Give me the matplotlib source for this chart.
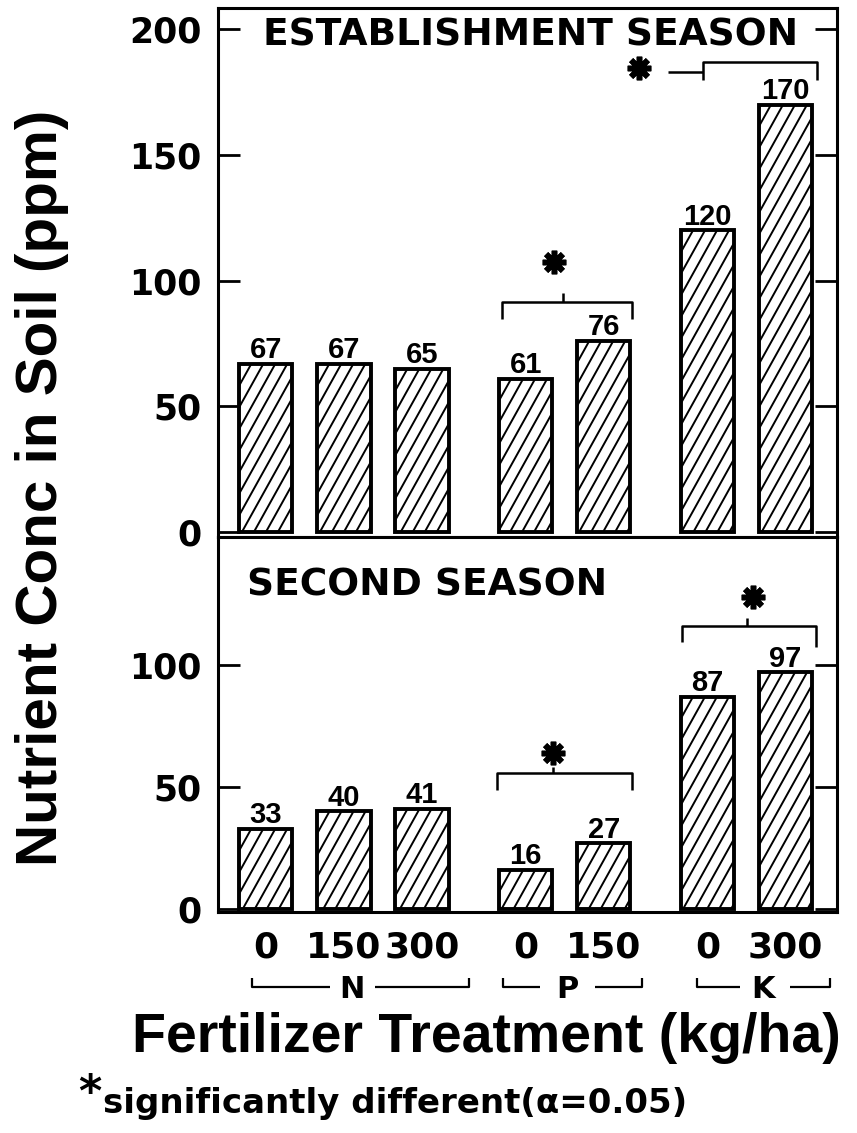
import matplotlib
matplotlib.use("Agg")
import matplotlib.pyplot as plt
from matplotlib.collections import LineCollection
import numpy as np

# ---------------- data ----------------
treatments = ["0", "150", "300", "0", "150", "0", "300"]
groups = ["N", "N", "N", "P", "P", "K", "K"]
establishment = [67, 67, 65, 61, 76, 120, 170]
second = [33, 40, 41, 16, 27, 87, 97]
top_yticks = [0, 50, 100, 150, 200]
bottom_yticks = [0, 50, 100]

plt.rcParams["font.family"] = ["DejaVu Sans"]
plt.rcParams["font.weight"] = "bold"

W, H = 857, 1133
fig = plt.figure(figsize=(W / 100, H / 100), dpi=100)
fig.patch.set_facecolor("white")


def fy(py):
    return 1 - py / H


# x positions: unit step within group, wider gap between groups
gap = 1.33
x = []
pos = 0.0
prev = None
for g in groups:
    if prev is not None:
        pos += 1.0 if g == prev else gap
    x.append(pos)
    prev = g
x = np.array(x)

ax1 = fig.add_axes([218 / W, 1 - 537 / H, 619 / W, 529 / H])
ax2 = fig.add_axes([218 / W, 1 - 912 / H, 619 / W, 375 / H])

ax1.set_xlim(-0.615, 7.32)
ax2.set_xlim(-0.615, 7.32)
ax1.set_ylim(-2, 208.5)
ax2.set_ylim(-1.23, 152.5)

bar_w = 0.68
LBL = dict(family="Liberation Sans", weight="bold")


def hatch_bars(ax, bars, spacing=12.0, slope=1.8):
    fig.canvas.draw()
    inv = ax.transData.inverted()
    for b in bars:
        x0, w, h = b.get_x(), b.get_width(), b.get_height()
        p0 = ax.transData.transform((x0, 0))
        p1 = ax.transData.transform((x0 + w, h))
        hgt = p1[1] - p0[1]
        run = hgt / slope
        segs = []
        for xs in np.arange(p0[0] - run, p1[0] + spacing, spacing):
            a = inv.transform((xs, p0[1]))
            c = inv.transform((xs + run, p1[1]))
            segs.append([tuple(a), tuple(c)])
        lc = LineCollection(segs, colors="black", linewidths=1.4, zorder=2)
        ax.add_collection(lc)
        lc.set_clip_path(b)


for ax, vals in ((ax1, establishment), (ax2, second)):
    bars = ax.bar(x, vals, width=bar_w, facecolor="none", edgecolor="black",
                  linewidth=2.8, zorder=3)
    hatch_bars(ax, bars)
    for xi, v in zip(x, vals):
        ax.annotate(str(v), (xi, v), xytext=(0, 4), textcoords="offset points",
                    ha="center", va="baseline", fontsize=21, **LBL)
    for sp in ax.spines.values():
        sp.set_linewidth(2.2)
    ax.tick_params(axis="y", direction="in", length=16, width=2.0, left=True,
                   right=True, labelsize=25, pad=12)
    ax.tick_params(axis="x", length=0)

ax1.set_yticks(top_yticks)
ax2.set_yticks(bottom_yticks)
ax1.set_xticks([])
ax2.set_xticks(x)
ax2.set_xticklabels(treatments, fontsize=26, fontweight="bold")
ax2.tick_params(axis="x", pad=13)


def line(ax, xs, ys, lw=1.8):
    ax.plot(xs, ys, color="black", lw=lw, clip_on=False, solid_capstyle="butt", zorder=4)


def star(ax, xx, yy):
    ax.plot([xx], [yy], marker=(8, 2, 0), markersize=17, markeredgewidth=4,
            color="black", clip_on=False, zorder=4)


# significance brackets - top panel
line(ax1, [3.03, 3.03, 4.69, 4.69], [84.8, 91.5, 91.5, 84.8])
line(ax1, [3.81, 3.81], [91.5, 95.1])
star(ax1, 3.69, 107.4)
line(ax1, [5.6, 5.6, 7.06, 7.06], [180, 187, 187, 180])
line(ax1, [5.15, 5.6], [183, 183])
star(ax1, 4.78, 184.6)

# significance brackets - bottom panel
line(ax2, [2.96, 2.96, 4.69, 4.69], [48.8, 55.7, 55.7, 48.8])
line(ax2, [3.68, 3.68], [55.7, 58.2])
star(ax2, 3.68, 63.9)
line(ax2, [5.33, 5.33, 7.05, 7.05], [109.5, 116, 116, 107.4])
line(ax2, [6.17, 6.17], [116, 119.3])
star(ax2, 6.24, 127.9)

# group brackets under the treatment labels
yb, yl = -31.8, -28.2
for (a, b), (c, d), name, cx in [((-0.18, 0.82), (1.40, 2.6), "N", 1.10),
                                 ((3.04, 3.51), (4.22, 4.82), "P", 3.86),
                                 ((5.53, 6.08), (6.72, 7.23), "K", 6.37)]:
    line(ax2, [a, a, b], [yl, yb, yb], lw=1.6)
    line(ax2, [c, d, d], [yb, yb, yl], lw=1.6)
    ax2.text(cx, yb, name, ha="center", va="center_baseline", fontsize=22,
             fontweight="bold", clip_on=False)

# panel titles
fig.text(263 / W, fy(46), "ESTABLISHMENT SEASON", ha="left", va="baseline",
         fontsize=27, fontweight="bold")
fig.text(247 / W, fy(596), "SECOND SEASON", ha="left", va="baseline",
         fontsize=27, fontweight="bold")

# axis labels
fig.text(42 / W, fy(488), "Nutrient Conc in Soil (ppm)", rotation=90,
         ha="center", va="center", fontsize=42, **LBL)
fig.text(486 / W, fy(1052), "Fertilizer Treatment (kg/ha)", ha="center",
         va="baseline", fontsize=40, **LBL)

# footnote
fig.text(90 / W, fy(1106), "*", ha="center", va="baseline", fontsize=32,
         fontweight="bold")
fig.text(103 / W, fy(1104), "significantly different(α=0.05)", ha="left",
         va="center", fontsize=24.5, fontweight="bold")

fig.savefig("out.png", dpi=100, facecolor="white")
